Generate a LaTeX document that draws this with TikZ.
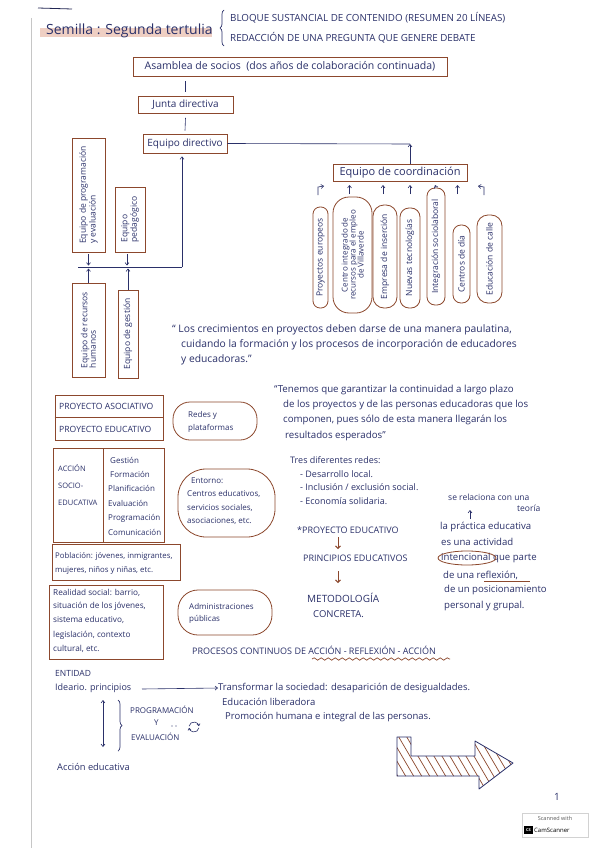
\documentclass[tikz,border=0pt]{standalone}
\usepackage{fontspec}
\setmainfont{Open Sans}
\usetikzlibrary{arrows.meta,decorations.pathreplacing,decorations.pathmorphing,shapes.geometric,calc}
\definecolor{ink}{RGB}{42,48,105}
\definecolor{brn}{RGB}{140,72,45}
\definecolor{hlc}{RGB}{236,196,180}
\newcounter{tn}
\newcommand\tline[4][]{\stepcounter{tn}\node[txt,#1] (t\thetn) at (#2,#3) {#4};}
\newcommand\fsz[1]{\fontsize{#1}{#1}\selectfont}
\begin{document}
\begin{tikzpicture}[x=1pt,y=-1pt,
  txt/.style={text=ink, anchor=west, inner sep=0pt, font=\fsz{9}},
  bx/.style={draw=brn, line width=0.8pt, inner sep=0pt},
  ov/.style={draw=brn, line width=0.8pt, ellipse, inner sep=0pt},
  rov/.style={draw=brn, line width=0.8pt, inner sep=0pt},
  ln/.style={draw=ink, line width=0.6pt},
  arr/.style={ln, -{Straight Barb[length=2.5pt,width=4pt]}},
  darr/.style={ln, {Straight Barb[length=2.5pt,width=4pt]}-{Straight Barb[length=2.5pt,width=4pt]}},
  rtxt/.style={text=ink, inner sep=0pt, rotate=90, align=left, font=\fsz{8.5}},
]
\useasboundingbox (0,0) rectangle (599,848);
\fill[white] (0,0) rectangle (599,848);
% page edge
\draw[gray!45, line width=0.5pt] (31,18) -- (31,848);
\draw[ink!80!black, line width=0.8pt] (38,8) -- (72,9);
% title
\fill[hlc, opacity=0.8] (40,28) rectangle (212,37);
\tline[font=\fsz{14}]{46}{31}{Semilla : Segunda tertulia}
\draw[ink, line width=0.7pt, decorate, decoration={brace, amplitude=4pt}] (224,46) -- (224,10);
\tline[font=\fsz{9.8}]{230}{18}{BLOQUE SUSTANCIAL DE CONTENIDO (RESUMEN 20 LÍNEAS)}
\tline[font=\fsz{9.8}]{230}{38}{REDACCIÓN DE UNA PREGUNTA QUE GENERE DEBATE}

% hierarchy
\node[bx, minimum width=314pt, minimum height=19pt, text=ink, font=\fsz{10.5}] (asam) at (290,66.5) {Asamblea de socios \ (dos años de colaboración continuada)};
\node[bx, minimum width=95pt, minimum height=17pt, text=ink, font=\fsz{10}] (jd) at (185.5,105) {Junta directiva};
\node[bx, minimum width=84pt, minimum height=19pt, text=ink, font=\fsz{10}] (dir) at (185,143.5) {Equipo directivo};
\draw[ln] ([yshift=-5pt]asam.south -| jd.north) -- ([yshift=4pt]jd.north);
\draw[ln] ([yshift=-4pt]jd.south) -- ([yshift=3pt]dir.north);

\node[bx, minimum width=134pt, minimum height=17pt, text=ink, font=\fsz{11}] (coord) at (400,172.5) {Equipo de coordinación};
\coordinate (cj) at (410,144);
\draw[ln] (dir.east) -- (cj);
\draw[arr] (coord.north -| cj) -- (cj);

% left side teams
\node[bx, minimum width=33pt, minimum height=114pt] (pe) at (88.5,195) {};
\node[rtxt] (pet) at (pe.center) {Equipo de programación\\y evaluación};
\node[bx, minimum width=30pt, minimum height=65pt] (ped) at (130,219.5) {};
\node[rtxt] (pedt) at (ped.center) {Equipo\\pedagógico};
\node[bx, minimum width=33pt, minimum height=94pt] (rh) at (88.5,330) {};
\node[rtxt] (rht) at (rh.center) {Equipo de recursos\\humanos};
\node[bx, minimum width=20pt, minimum height=88pt] (ge) at (128,334) {};
\node[rtxt] (get) at (ge.center) {Equipo de gestión};
\coordinate (hj) at (182,267);
\coordinate (hl) at (78,267);
\draw[ln] (hl) -- (hj);
\draw[arr, shorten >=3pt] (hj) -- (hj |- dir.south);
\draw[arr, shorten <=2pt, shorten >=1.5pt] (pe.south) -- (pe.south |- hj);
\draw[arr, shorten <=2pt, shorten >=1.5pt] ([xshift=-3pt]ped.south) -- ([xshift=-3pt]ped.south |- hj);
\draw[arr, shorten >=1.5pt] (rh.north) -- (rh.north |- hj);
\draw[arr, shorten >=1.5pt] (ge.north) -- (ge.north |- hj);

% ovals under coordination
\node[bx, rounded corners=7pt, minimum width=15pt, minimum height=101pt] (o1) at (320.5,257.5) {};
\node[rtxt] (o1t) at (o1.center) {Proyectos europeos};
\node[bx, rounded corners=16pt, minimum width=39pt, minimum height=116pt] (o2) at (352.5,255) {};
\node[rtxt, font=\fsz{8}, align=center] (o2t) at (o2.center) {Centro integrado de\\recursos para el empleo\\de Villaverde};
\node[bx, rounded corners=11pt, minimum width=24pt, minimum height=103pt] (o3) at (385,256.5) {};
\node[rtxt] (o3t) at (o3.center) {Empresa de inserción};
\node[bx, rounded corners=9pt, minimum width=20pt, minimum height=100pt] (o4) at (410,258) {};
\node[rtxt] (o4t) at (o4.center) {Nuevas tecnologías};
\node[bx, rounded corners=8pt, minimum width=18pt, minimum height=117pt] (o5) at (436,246.5) {};
\node[rtxt] (o5t) at (o5.center) {Integración sociolaboral};
\node[bx, rounded corners=8pt, minimum width=17pt, minimum height=78pt] (o6) at (461.5,264) {};
\node[rtxt] (o6t) at (o6.center) {Centros de día};
\node[bx, rounded corners=11pt, minimum width=25pt, minimum height=88pt] (o7) at (489.5,259) {};
\node[rtxt] (o7t) at (o7.center) {Educación de calle};
\coordinate (ay) at (0,194);
\coordinate (by) at (0,185);
\draw[arr] ($(ay -| o2)+(-3,0)$) -- ($(by -| o2)+(-3,0)$);
\draw[arr] ($(ay -| o3)+(-2,0)$) -- ($(by -| o3)+(-2,0)$);
\draw[arr] (ay -| o4) -- (by -| o4);
\draw[arr] (o5.north) -- ($(by -| o5)+(-1,0)$);
\draw[arr] ($(ay -| o6)+(-4,0)$) -- ($(by -| o6)+(-4,0)$);
\draw[arr] (318,195) -- (318,187) -- (324,186);
\draw[arr] (484,195) -- (484,187) -- (478,186);

% quote 1
\tline[font=\fsz{10.3}]{172}{330}{“ Los crecimientos en proyectos deben darse de una manera paulatina,}
\tline[font=\fsz{10.3}]{181}{345}{cuidando la formación y los procesos de incorporación de educadores}
\tline[font=\fsz{10.3}]{181}{360}{y educadoras.”}

% left column
\node[bx, minimum width=108pt, minimum height=45pt] (proy) at (109,417.5) {};
\draw[brn, line width=0.8pt] (proy.west |- 0,417) -- (proy.east |- 0,417);
\tline[font=\fsz{8.6}]{59}{406}{PROYECTO ASOCIATIVO}
\tline[font=\fsz{8.6}]{59}{429}{PROYECTO EDUCATIVO}
\node[rov, rounded corners=17pt, minimum width=84pt, minimum height=38pt] (redes) at (215,421) {};
\tline[font=\fsz{8}]{188}{415}{Redes y}
\tline[font=\fsz{8}]{188}{428}{plataformas}

\node[bx, minimum width=111pt, minimum height=94pt] (acc) at (108.5,495) {};
\draw[brn, line width=0.8pt] (103,448) -- (103,542);
\tline[font=\fsz{7.5}]{58}{468}{ACCIÓN}
\tline[font=\fsz{7.5}]{58}{486}{SOCIO-}
\tline[font=\fsz{7.5}]{58}{503}{EDUCATIVA}
\tline[font=\fsz{8}]{110}{460}{Gestión}
\tline[font=\fsz{8}]{110}{474}{Formación}
\tline[font=\fsz{8}]{108}{488}{Planificación}
\tline[font=\fsz{8}]{108}{503}{Evaluación}
\tline[font=\fsz{8}]{108}{518}{Programación}
\tline[font=\fsz{8}]{108}{532}{Comunicación}
\node[rov, rounded corners=28pt, minimum width=97pt, minimum height=68pt] (ent) at (226.5,503) {};
\tline[font=\fsz{8}]{191}{481}{Entorno:}
\tline[font=\fsz{8}]{187}{494}{Centros educativos,}
\tline[font=\fsz{8}]{187}{508}{servicios sociales,}
\tline[font=\fsz{8}]{187}{521}{asociaciones, etc.}

\node[bx, minimum width=128pt, minimum height=36pt] (pob) at (116,562) {};
\tline[font=\fsz{7.8}]{55}{556}{Población: jóvenes, inmigrantes,}
\tline[font=\fsz{7.8}]{55}{571}{mujeres, niños y niñas, etc.}
\node[bx, minimum width=114pt, minimum height=74pt] (real) at (106,622) {};
\tline[font=\fsz{8.2}]{53}{593}{Realidad social: barrio,}
\tline[font=\fsz{8.2}]{53}{606}{situación de los jóvenes,}
\tline[font=\fsz{8.2}]{53}{620}{sistema educativo,}
\tline[font=\fsz{8.2}]{53}{635}{legislación, contexto}
\tline[font=\fsz{8.2}]{53}{649}{cultural, etc.}
\node[rov, rounded corners=20pt, minimum width=94pt, minimum height=45pt] (adm) at (225,612.5) {};
\tline[font=\fsz{8}]{189}{606}{Administraciones}
\tline[font=\fsz{8}]{189}{619}{públicas}

% right column
\tline[font=\fsz{9.7}]{274}{390}{“Tenemos que garantizar la continuidad a largo plazo}
\tline[font=\fsz{9.7}]{283}{405}{de los proyectos y de las personas educadoras que los}
\tline[font=\fsz{9.7}]{283}{420}{componen, pues sólo de esta manera llegarán los}
\tline[font=\fsz{9.7}]{285}{436}{resultados esperados”}
\tline[font=\fsz{9}]{290}{460}{Tres diferentes redes:}
\tline[font=\fsz{9}]{300}{474}{- Desarrollo local.}
\tline[font=\fsz{9}]{300}{487}{- Inclusión / exclusión social.}
\tline[font=\fsz{9}]{300}{501}{- Economía solidaria.}

\tline[font=\fsz{8.5}]{448}{497}{se relaciona con una}
\tline[font=\fsz{8.5}]{517}{508}{teoría}
\tline[font=\fsz{9.6}]{440}{527}{la práctica educativa}
\draw[arr] (470,519) -- (470,510);
\tline[font=\fsz{9.6}]{441}{542}{es una actividad}
\tline[font=\fsz{9.6}]{441}{558}{intencional que parte}
\node[ov, minimum width=58pt, minimum height=14pt] (inten) at (467,558) {};
\tline[font=\fsz{9.6}]{443}{575}{de una reflexión,}
\draw[brn, line width=0.8pt] (484,581) -- (530,581);
\tline[font=\fsz{9.6}]{444}{590}{de un posicionamiento}
\tline[font=\fsz{9.6}]{444}{606}{personal y grupal.}

\tline[font=\fsz{9}]{297}{530}{*PROYECTO EDUCATIVO}
\tline[font=\fsz{9}]{303}{558}{PRINCIPIOS EDUCATIVOS}
\tline[font=\fsz{10}]{307}{598}{METODOLOGÍA}
\tline[font=\fsz{9.5}]{313}{614}{CONCRETA.}
\draw[brn, line width=0.9pt, -{Straight Barb[length=2.5pt,width=5pt]}] (338,537) -- (338,549);
\draw[brn, line width=0.9pt, -{Straight Barb[length=2.5pt,width=5pt]}] (338,571) -- (338,583);

\tline[font=\fsz{9}]{192}{650}{PROCESOS CONTINUOS DE ACCIÓN - REFLEXIÓN - ACCIÓN}
\draw[brn, line width=0.7pt, decorate, decoration={snake, amplitude=1.2pt, segment length=7pt}] (312,659) -- (450,659);

% bottom
\tline[font=\fsz{8.5}]{55}{673}{ENTIDAD}
\tline[font=\fsz{9}]{55}{688}{Ideario. principios}
\tline[font=\fsz{9.5}]{218}{688}{Transformar la sociedad: desaparición de desigualdades.}
\draw[arr] (142,689) -- (t\thetn.west);
\tline[font=\fsz{9.5}]{222}{702}{Educación liberadora}
\tline[font=\fsz{9.5}]{225}{717}{Promoción humana e integral de las personas.}
\draw[darr] (103,700) -- (103,747);
\draw[ink, line width=0.7pt, decorate, decoration={brace, amplitude=4pt}] (118,700) -- (118,751);
\tline[font=\fsz{8}]{130}{710}{PROGRAMACIÓN}
\tline[font=\fsz{8}]{154}{723}{Y}
\tline[font=\fsz{8}]{131}{737}{EVALUACIÓN}
\fill[ink] (172,726) circle (0.6pt) (176,726) circle (0.6pt);
\draw[ink, line width=0.6pt, -{Straight Barb[length=1.8pt,width=3pt]}] (194,727) ++(10:5) arc[start angle=10, end angle=170, radius=5];
\draw[ink, line width=0.6pt, -{Straight Barb[length=1.8pt,width=3pt]}] (194,727) ++(190:5) arc[start angle=190, end angle=350, radius=5];
\tline[font=\fsz{9.3}]{57}{767}{Acción educativa}

% hatched arrow
\coordinate (h1) at (397,737);
\coordinate (h2) at (411,737);
\coordinate (h3) at (411,756);
\coordinate (h4) at (475,756);
\coordinate (h5) at (475,741);
\coordinate (h6) at (513,763);
\coordinate (h7) at (479,789);
\coordinate (h8) at (479,776);
\coordinate (h9) at (397,776);
\begin{scope}
\clip (h1) -- (h2) -- (h3) -- (h4) -- (h5) -- (h6) -- (h7) -- (h8) -- (h9) -- cycle;
\foreach \i in {-40,-32,...,130} \draw[brn, line width=0.7pt] (397+\i,734) -- (397+\i+34,792);
\end{scope}
\draw[ink, line width=0.8pt, line join=round] (h1) -- (h2) -- (h3) -- (h4) -- (h5) -- (h6) -- (h7) -- (h8) -- (h9) -- cycle;

\tline[font=\fsz{10}]{554}{797}{1}

% scanner badge
\node[draw=gray!35, fill=white, minimum width=66pt, minimum height=24pt, inner sep=0pt] (cs) at (555,825) {};
\node[text=gray!70!black, font=\fsz{5.5}, inner sep=0pt] (csa) at (555,818.5) {Scanned with};
\node[fill=black, text=white, font=\fsz{4}\bfseries, inner sep=1pt, minimum width=9pt, minimum height=8pt] (csb) at (528.5,830) {CS};
\node[text=black, font=\fsz{6}, inner sep=0pt, anchor=west] (csc) at (534,830) {CamScanner};
\end{tikzpicture}
\end{document}
